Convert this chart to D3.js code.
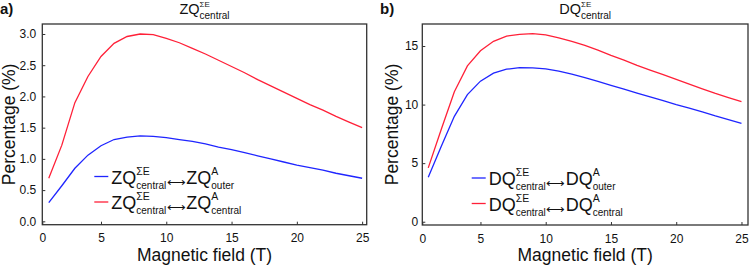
<!DOCTYPE html>
<html>
<head>
<meta charset="utf-8">
<script src="https://cdn.jsdelivr.net/npm/d3@7"></script>
<style>
  body { margin: 0; background: #fff; }
  svg { display: block; font-family: "Liberation Sans", Arial, sans-serif; }
</style>
</head>
<body>
<div id="chart"></div>
<script>
// magnetic field (T)
var field = [1,2,3,4,5,6,7,8,9,10,11,12,13,14,15,16,17,18,19,20,21,22,23,24,25];

// panel a: ZQ
var zqOuter   = [0.30,0.57,0.85,1.06,1.21,1.31,1.35,1.37,1.36,1.34,1.31,1.28,1.24,1.19,1.15,1.10,1.05,1.00,0.95,0.90,0.86,0.82,0.77,0.73,0.69];
var zqCentral = [0.69,1.22,1.90,2.32,2.64,2.85,2.96,3.00,2.99,2.93,2.86,2.77,2.68,2.58,2.48,2.38,2.27,2.17,2.07,1.97,1.87,1.78,1.68,1.59,1.50];

// panel b: DQ
var dqOuter   = [3.80,6.45,9.00,10.85,12.00,12.68,13.02,13.15,13.13,13.05,12.85,12.60,12.30,11.98,11.65,11.33,10.98,10.65,10.33,10.00,9.70,9.37,9.03,8.72,8.40];
var dqCentral = [4.60,7.90,11.10,13.30,14.60,15.40,15.85,16.00,16.05,15.95,15.70,15.40,15.05,14.65,14.20,13.80,13.35,12.95,12.55,12.15,11.75,11.35,10.95,10.60,10.25];

var xTicks = [5,10,15,20,25];
var yTicksA = [0,0.5,1.0,1.5,2.0,2.5,3.0];
var yTicksB = [0,5,10,15];

var BLUE = '#1f25ff';
var RED = '#ff2038';
var FRAME = '#333';

var svg = d3.select('#chart').append('svg')
    .attr('width', 749)
    .attr('height', 266);

// draws base^sup_sub, returns x after it
function scriptText(g, x, y, base, sup, sub, size) {
    var b = g.append('text').attr('x', x).attr('y', y)
        .attr('font-size', size.base).attr('fill', '#111').text(base);
    var bx = x + b.node().getComputedTextLength();
    var s1 = g.append('text').attr('x', bx).attr('y', y + size.supDy)
        .attr('font-size', size.sup).attr('fill', '#111').text(sup);
    var s2 = g.append('text').attr('x', bx).attr('y', y + size.subDy)
        .attr('font-size', size.sub).attr('fill', '#111').text(sub);
    return bx + Math.max(s1.node().getComputedTextLength(), s2.node().getComputedTextLength());
}

function drawPanel(opt) {
    var g = svg.append('g');
    var x = d3.scaleLinear().domain(opt.xDomain).range([opt.left, opt.right]);
    var y = d3.scaleLinear().domain(opt.yDomain).range([opt.bottom, opt.top]);

    // x axis
    var xAxis = d3.axisBottom(x)
        .tickValues([opt.xDomain[0]].concat(xTicks))
        .tickSizeInner(-3).tickSizeOuter(0).tickPadding(9)
        .tickFormat(function(d) { return d < 1 ? '0' : d; });
    var gx = g.append('g').attr('transform', 'translate(0,' + opt.bottom + ')').call(xAxis);
    gx.select('.domain').remove();
    gx.selectAll('line').attr('stroke', FRAME).attr('stroke-width', 1);
    gx.selectAll('text').attr('font-size', 12).attr('fill', '#111')
        .attr('font-family', '"Liberation Sans", Arial, sans-serif');

    // y axis
    var yAxis = d3.axisLeft(y).tickValues(opt.yTicks)
        .tickSizeInner(-3).tickSizeOuter(0).tickPadding(opt.yPad)
        .tickFormat(opt.yFormat);
    var gy = g.append('g').attr('transform', 'translate(' + opt.left + ',0)').call(yAxis);
    gy.select('.domain').remove();
    gy.selectAll('line').attr('stroke', FRAME).attr('stroke-width', 1);
    gy.selectAll('text').attr('font-size', 12).attr('fill', '#111')
        .attr('font-family', '"Liberation Sans", Arial, sans-serif');

    // frame
    g.append('rect')
        .attr('x', opt.left).attr('y', opt.top)
        .attr('width', opt.right - opt.left).attr('height', opt.bottom - opt.top)
        .attr('fill', 'none').attr('stroke', FRAME).attr('stroke-width', 1.3);

    var line = d3.line()
        .x(function(d, i) { return x(field[i]); })
        .y(function(d) { return y(d); });

    g.append('path').datum(opt.outer).attr('d', line)
        .attr('fill', 'none').attr('stroke', BLUE).attr('stroke-width', 1.3);
    g.append('path').datum(opt.central).attr('d', line)
        .attr('fill', 'none').attr('stroke', RED).attr('stroke-width', 1.3);

    // axis titles
    g.append('text')
        .attr('transform', 'translate(' + opt.yLabelX + ',' + ((opt.top + opt.bottom) / 2) + ') rotate(-90)')
        .attr('text-anchor', 'middle').attr('font-size', 17.5).attr('fill', '#111')
        .text('Percentage (%)');
    g.append('text')
        .attr('x', (opt.left + opt.right) / 2).attr('y', 261)
        .attr('text-anchor', 'middle').attr('font-size', 17.5).attr('fill', '#111')
        .text('Magnetic field (T)');

    // panel letter
    g.append('text').attr('x', opt.letterX).attr('y', 14)
        .attr('font-size', 15).attr('font-weight', 'bold').attr('fill', '#111')
        .text(opt.letter);

    // title
    var tg = g.append('g');
    var titleSize = { base: 14.5, sup: 8, sub: 10, supDy: -7, subDy: 5 };
    var endX = scriptText(tg, 0, 14, opt.q, 'ΣE', 'central', titleSize);
    tg.attr('transform', 'translate(' + ((opt.left + opt.right) / 2 - endX / 2) + ',0)');

    // legend
    var legSize = { base: 18, sup: 10.5, sub: 10, supDy: -9, subDy: 5 };
    var rows = [
        { color: BLUE, sub2: 'outer', dy: 0 },
        { color: RED, sub2: 'central', dy: 25.5 }
    ];
    rows.forEach(function(r) {
        var ly = opt.legY + r.dy;
        g.append('line')
            .attr('x1', opt.legX).attr('x2', opt.legX + 14)
            .attr('y1', ly).attr('y2', ly)
            .attr('stroke', r.color).attr('stroke-width', 1.3);
        var lg = g.append('g');
        var tx = scriptText(lg, opt.legX + 17, ly + 7, opt.q, 'ΣE', 'central', legSize);
        var arr = lg.append('text').attr('x', tx + 0.5).attr('y', ly + 10)
            .attr('font-size', 13).attr('fill', '#111').text('⟷');
        tx += arr.node().getComputedTextLength() + 1;
        scriptText(lg, tx, ly + 7, opt.q, 'A', r.sub2, legSize);
    });
}

drawPanel({
    left: 42.3, right: 366.7, top: 24, bottom: 224.7,
    xDomain: [0.505, 25.35], yDomain: [-0.054, 3.16],
    yTicks: yTicksA, yFormat: d3.format('.1f'), yPad: 6,
    outer: zqOuter, central: zqCentral,
    yLabelX: 14.5, letter: 'a)', letterX: 0, q: 'ZQ',
    legX: 94.3, legY: 176.5
});

drawPanel({
    left: 422.3, right: 748, top: 24, bottom: 225,
    xDomain: [0.544, 25.5], yDomain: [-0.28, 16.88],
    yTicks: yTicksB, yFormat: d3.format('d'), yPad: 4,
    outer: dqOuter, central: dqCentral,
    yLabelX: 398, letter: 'b)', letterX: 380, q: 'DQ',
    legX: 471.7, legY: 178
});
</script>
</body>
</html>
